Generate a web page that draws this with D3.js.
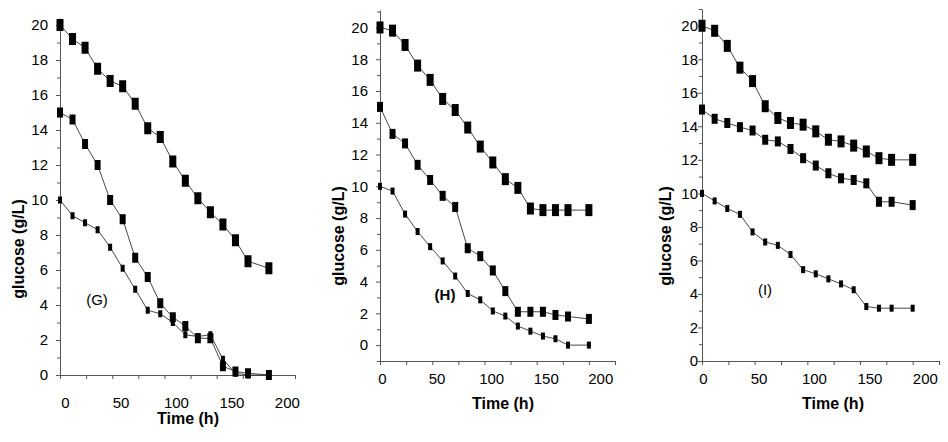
<!DOCTYPE html>
<html>
<head>
<meta charset="utf-8">
<script src="https://cdn.jsdelivr.net/npm/d3@7"></script>
<style>
  body { margin: 0; background: #fff; }
  svg { display: block; font-family: Arial, "Liberation Sans", sans-serif; }
  .tick text { font-size: 15px; fill: #000; }
  .axis-title { font-size: 16px; font-weight: bold; }
</style>
</head>
<body>
<div id="chart"></div>
<script>
// sampling times (h), same for every panel
const times = [0, 12, 24, 36, 48, 60, 72, 84, 96, 108, 120, 132, 144, 156, 168, 180, 200];

// panel G
const gHigh = [20.0, 19.2, 18.7, 17.5, 16.8, 16.5, 15.5, 14.1, 13.6, 12.2, 11.1, 10.1, 9.3, 8.6, 7.7, 6.5, 6.1];
const gMid  = [15.0, 14.6, 13.2, 12.0, 10.0, 8.9, 6.7, 5.6, 4.1, 3.3, 2.8, 2.1, 2.1, 0.5, 0.2, 0.1, 0.0];
const gLow  = [10.0, 9.1, 8.7, 8.3, 7.3, 6.1, 4.9, 3.7, 3.5, 3.0, 2.3, 2.2, 2.3, 0.9, 0.1, 0.0, 0.0];

// panel H
const hHigh = [20.0, 19.8, 18.9, 17.6, 16.7, 15.5, 14.8, 13.7, 12.5, 11.5, 10.45, 9.9, 8.6, 8.5, 8.5, 8.5, 8.5];
const hMid  = [15.0, 13.3, 12.7, 11.35, 10.4, 9.4, 8.7, 6.1, 5.6, 4.7, 3.4, 2.1, 2.1, 2.1, 1.9, 1.8, 1.65];
const hLow  = [10.0, 9.7, 8.25, 7.15, 6.2, 5.3, 4.35, 3.25, 2.85, 2.15, 1.83, 1.2, 0.88, 0.57, 0.4, 0.0, 0.0];

// panel I
const iHigh = [20.0, 19.7, 18.8, 17.5, 16.7, 15.2, 14.5, 14.2, 14.1, 13.7, 13.2, 13.1, 12.85, 12.5, 12.1, 12.0, 12.0];
const iMid  = [15.0, 14.45, 14.2, 13.95, 13.75, 13.2, 13.1, 12.65, 12.1, 11.66, 11.2, 10.9, 10.8, 10.6, 9.5, 9.5, 9.3];
const iLow  = [10.0, 9.55, 9.1, 8.75, 7.7, 7.1, 6.9, 6.35, 5.45, 5.2, 4.9, 4.6, 4.25, 3.25, 3.15, 3.15, 3.15];

const xTickLabels = [0, 50, 100, 150, 200];
const yTickLabels = [0, 2, 4, 6, 8, 10, 12, 14, 16, 18, 20];
const panelLabels = ["(G)", "(H)", "(I)"];

const width = 948, height = 442;

const svg = d3.select("#chart")
  .append("svg")
  .attr("width", width)
  .attr("height", height);

const panels = [
  { series: [gHigh, gMid, gLow], label: panelLabels[0],
    x0: 60, x1: 295, yDom: [0, 20.4], yRange: [375, 18],
    xLabelDy: 27, xLabelShift: v => 5 + v * 0.065, yLabelGap: 12,
    xTitle: [188, 418], yTitle: [18, 249],
    tag: [97, 300], tagBold: false },
  { series: [hHigh, hMid, hLow], label: panelLabels[1],
    x0: 380, x1: 615, yDom: [-1, 21.1], yRange: [361, 10],
    xLabelDy: 17, xLabelShift: v => 2 + v * 0.047, yLabelGap: 12,
    xTitle: [503, 403], yTitle: [338, 236],
    tag: [445, 295], tagBold: true },
  { series: [iHigh, iMid, iLow], label: panelLabels[2],
    x0: 702, x1: 939, yDom: [0, 21], yRange: [361, 9],
    xLabelDy: 17, xLabelShift: v => 1 + v * 0.056, yLabelGap: 4,
    xTitle: [833, 403], yTitle: [665, 236],
    tag: [765, 290], tagBold: false }
];

// marker size per series: high, mid, low
const markerSize = [[7, 12], [6, 10], [4, 7]];

panels.forEach(p => drawPanel(p));

function drawPanel(p) {
  const x = d3.scaleLinear().domain([0, 225]).range([p.x0, p.x1]);
  const y = d3.scaleLinear().domain(p.yDom).range(p.yRange);
  const g = svg.append("g");

  // x axis
  const xAxis = g.append("g")
    .attr("transform", `translate(0,${p.yRange[0]})`)
    .call(d3.axisBottom(x)
      .tickValues(d3.range(0, 226, 25))
      .tickSize(4)
      .tickFormat(d => xTickLabels.includes(d) ? d : ""));
  xAxis.select(".domain").attr("stroke", "#555");
  xAxis.selectAll(".tick line").attr("stroke", "#555");
  xAxis.selectAll(".tick text")
    .attr("y", p.xLabelDy - 5)
    .attr("dx", d => p.xLabelShift(d));

  // y axis: labelled even values, minor odd ticks
  const yMinor = d3.range(Math.ceil(p.yDom[0]), Math.floor(p.yDom[1]) + 1).filter(v => v % 2 !== 0);
  g.append("g")
    .attr("transform", `translate(${p.x0},0)`)
    .call(d3.axisLeft(y).tickValues(yMinor).tickSize(3).tickFormat(""))
    .call(a => a.select(".domain").remove())
    .selectAll("line").attr("stroke", "#555");

  const yAxis = g.append("g")
    .attr("transform", `translate(${p.x0},0)`)
    .call(d3.axisLeft(y)
      .tickValues(yTickLabels)
      .tickSize(4)
      .tickSizeOuter(0)
      .tickPadding(p.yLabelGap - 4));
  yAxis.select(".domain").attr("stroke", "#555");
  yAxis.selectAll(".tick line").attr("stroke", "#555");

  // axis titles
  g.append("text")
    .attr("class", "axis-title")
    .attr("x", p.xTitle[0])
    .attr("y", p.xTitle[1])
    .attr("text-anchor", "middle")
    .attr("dy", "0.35em")
    .text("Time (h)");

  g.append("text")
    .attr("class", "axis-title")
    .attr("transform", `translate(${p.yTitle[0]},${p.yTitle[1]}) rotate(-90)`)
    .attr("text-anchor", "middle")
    .attr("dy", "0.35em")
    .text("glucose (g/L)");

  // panel tag
  g.append("text")
    .attr("x", p.tag[0])
    .attr("y", p.tag[1])
    .attr("text-anchor", "middle")
    .attr("dy", "0.35em")
    .style("font-size", "15px")
    .style("font-weight", p.tagBold ? "bold" : "normal")
    .text(p.label);

  // series
  const line = d3.line()
    .x((d, i) => x(times[i]))
    .y(d => y(d));

  p.series.forEach((vals, si) => {
    g.append("path")
      .datum(vals)
      .attr("d", line)
      .attr("fill", "none")
      .attr("stroke", "#333")
      .attr("stroke-width", 0.9);

    const [w, h] = markerSize[si];
    g.append("g")
      .selectAll("rect")
      .data(vals)
      .join("rect")
      .attr("x", (d, i) => x(times[i]) - w / 2)
      .attr("y", d => y(d) - h / 2)
      .attr("width", w)
      .attr("height", h)
      .attr("fill", "#000");
  });
}
</script>
</body>
</html>
